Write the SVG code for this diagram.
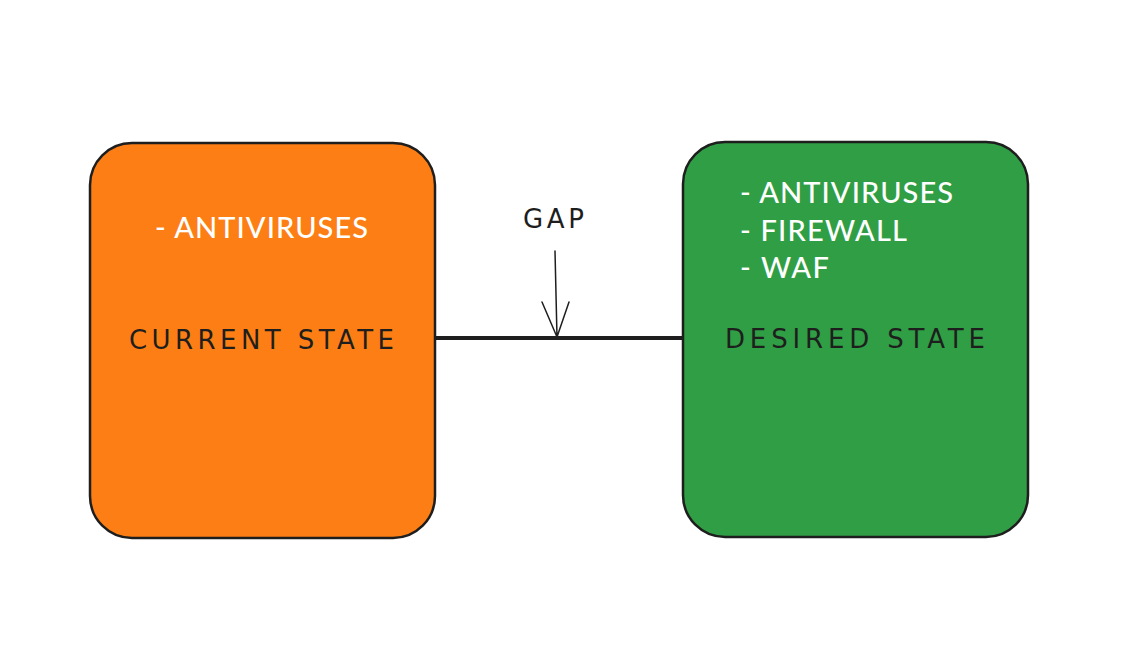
<svg xmlns="http://www.w3.org/2000/svg" width="1132" height="657" viewBox="0 0 1132 657">
<style>
.box{stroke:#1e1e1e;stroke-width:2.5}
.list{font-family:Lato,"Open Sans",sans-serif;font-size:29px;fill:#ffffff;font-weight:500}
.hand{font-family:"DejaVu Sans","Liberation Sans",sans-serif;font-size:26px;fill:#1e1e1e;letter-spacing:1px}
</style>
<rect width="1132" height="657" fill="#ffffff"/>
<g id="connectors">
<line x1="435" y1="338" x2="682" y2="338" stroke="#1e1e1e" stroke-width="4"/>
<path d="M555 251 L557 337 M542 302 L557 337 L569 302" fill="none" stroke="#1e1e1e" stroke-width="1.5" stroke-linecap="round" stroke-linejoin="round"/>
</g>
<g id="current">
<rect class="box" x="90" y="143" width="345" height="395" rx="42" fill="#fd7e14"/>
<text class="list" x="155" y="238" textLength="213">- ANTIVIRUSES</text>
<text class="hand" x="129" y="349" textLength="266">CURRENT STATE</text>
</g>
<g id="desired">
<rect class="box" x="683" y="142" width="345" height="395" rx="42" fill="#2f9e44"/>
<text class="list" x="740" y="203" textLength="213">- ANTIVIRUSES</text>
<text class="list" x="740" y="241" textLength="167">- FIREWALL</text>
<text class="list" x="740" y="278" textLength="89">- WAF</text>
<text class="hand" x="725" y="348" textLength="261">DESIRED STATE</text>
</g>
<g id="gap">
<text class="hand" x="523" y="228" textLength="62">GAP</text>
</g>
</svg>
